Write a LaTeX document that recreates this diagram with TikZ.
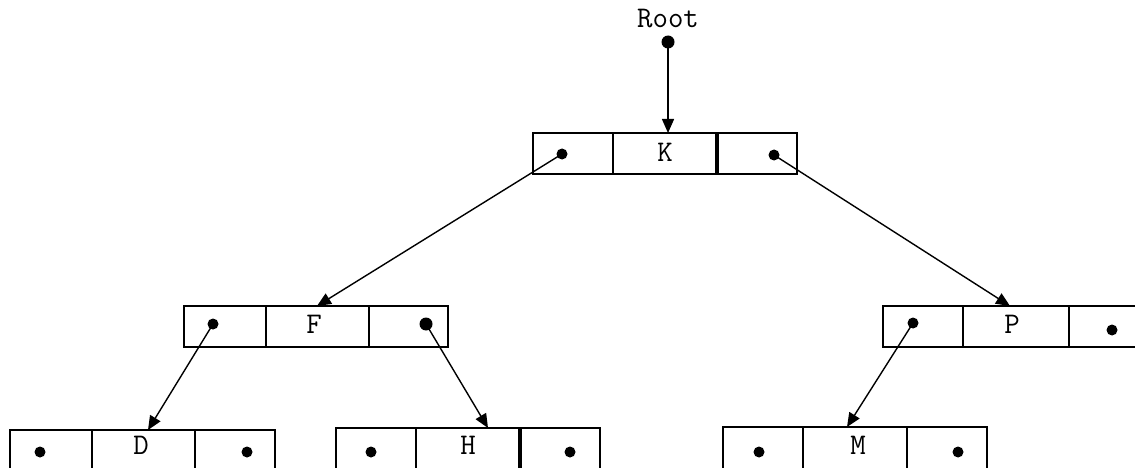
\documentclass[tikz,border=0pt]{standalone}
\usetikzlibrary{arrows.meta}
\begin{document}
\begin{tikzpicture}[x=1pt,y=-1pt,
  cell/.style={draw, line width=1.7pt, rectangle, inner sep=0pt, outer sep=0pt},
  thickline/.style={line width=3.2pt},
  lbl/.style={font=\ttfamily\fontsize{30}{30}\selectfont, inner sep=0pt},
  ptr/.style={circle, fill=black, inner sep=0pt, minimum size=11pt},
  link/.style={line width=1.4pt, -{Triangle[length=14pt,width=12pt]}}]
\useasboundingbox (0,0) rectangle (1135,468);
\clip (0,0) rectangle (1135,468);
% K node
\node[cell, minimum width=80pt, minimum height=41pt] (K1) at (573,153.5) {};
\node[cell, minimum width=104pt, minimum height=41pt] (K2) at (665,153.5) {};
\node[cell, minimum width=80pt, minimum height=41pt] (K3) at (757,153.5) {};
\draw[thickline] (K3.north west) -- (K3.south west);
% F node
\node[cell, minimum width=82pt, minimum height=41pt] (F1) at (225,326.5) {};
\node[cell, minimum width=103pt, minimum height=41pt] (F2) at (317.5,326.5) {};
\node[cell, minimum width=79pt, minimum height=41pt] (F3) at (408.5,326.5) {};
% P node
\node[cell, minimum width=80pt, minimum height=41pt] (P1) at (923,326.5) {};
\node[cell, minimum width=106pt, minimum height=41pt] (P2) at (1016,326.5) {};
\node[cell, minimum width=81pt, minimum height=41pt] (P3) at (1109.5,326.5) {};
% D node
\node[cell, minimum width=82pt, minimum height=44pt] (D1) at (51,452) {};
\node[cell, minimum width=103pt, minimum height=44pt] (D2) at (143.5,452) {};
\node[cell, minimum width=80pt, minimum height=44pt] (D3) at (235,452) {};
% H node
\node[cell, minimum width=80pt, minimum height=44pt] (H1) at (376,450) {};
\node[cell, minimum width=104pt, minimum height=44pt] (H2) at (468,450) {};
\node[cell, minimum width=80pt, minimum height=44pt] (H3) at (560,450) {};
\draw[thickline] (H3.north west) -- (H3.south west);
% M node
\node[cell, minimum width=80pt, minimum height=46pt] (M1) at (763,450) {};
\node[cell, minimum width=104pt, minimum height=46pt] (M2) at (855,450) {};
\node[cell, minimum width=80pt, minimum height=46pt] (M3) at (947,450) {};
% labels
\node[lbl] (root) at (668,19) {Root};
\node[lbl] at (665,152) {K};
\node[lbl] at (314,324) {F};
\node[lbl] at (1012,324) {P};
\node[lbl] at (141,445) {D};
\node[lbl] at (468,445) {H};
\node[lbl] at (858,445) {M};
% pointer dots
\node[ptr, minimum size=13pt] (r0) at (668,42) {};
\node[ptr] (k1) at (562,154) {};
\node[ptr] (k3) at (774,155) {};
\node[ptr] (f1) at (213,324) {};
\node[ptr, minimum size=13pt] (f3) at (426,324) {};
\node[ptr] (p1) at (913,323) {};
\node[ptr] (p3) at (1112,330) {};
\node[ptr] (d1) at (40,452) {};
\node[ptr] (d3) at (247,452) {};
\node[ptr] (h1) at (371,452) {};
\node[ptr] (h3) at (570,452) {};
\node[ptr] (m1) at (759,452) {};
\node[ptr] (m3) at (958,452) {};
% targets
\coordinate (tK) at (668,133);
\coordinate (tF) at (317,306);
\coordinate (tP) at (1010,306);
\coordinate (tD) at (148,430);
\coordinate (tH) at (488,428);
\coordinate (tM) at (847,427);
% links
\draw[link] (r0.center) -- (tK);
\draw[link] (k1.center) -- (tF);
\draw[link] (k3.center) -- (tP);
\draw[link] (f1.center) -- (tD);
\draw[link] (f3.center) -- (tH);
\draw[link] (p1.center) -- (tM);
\end{tikzpicture}
\end{document}
